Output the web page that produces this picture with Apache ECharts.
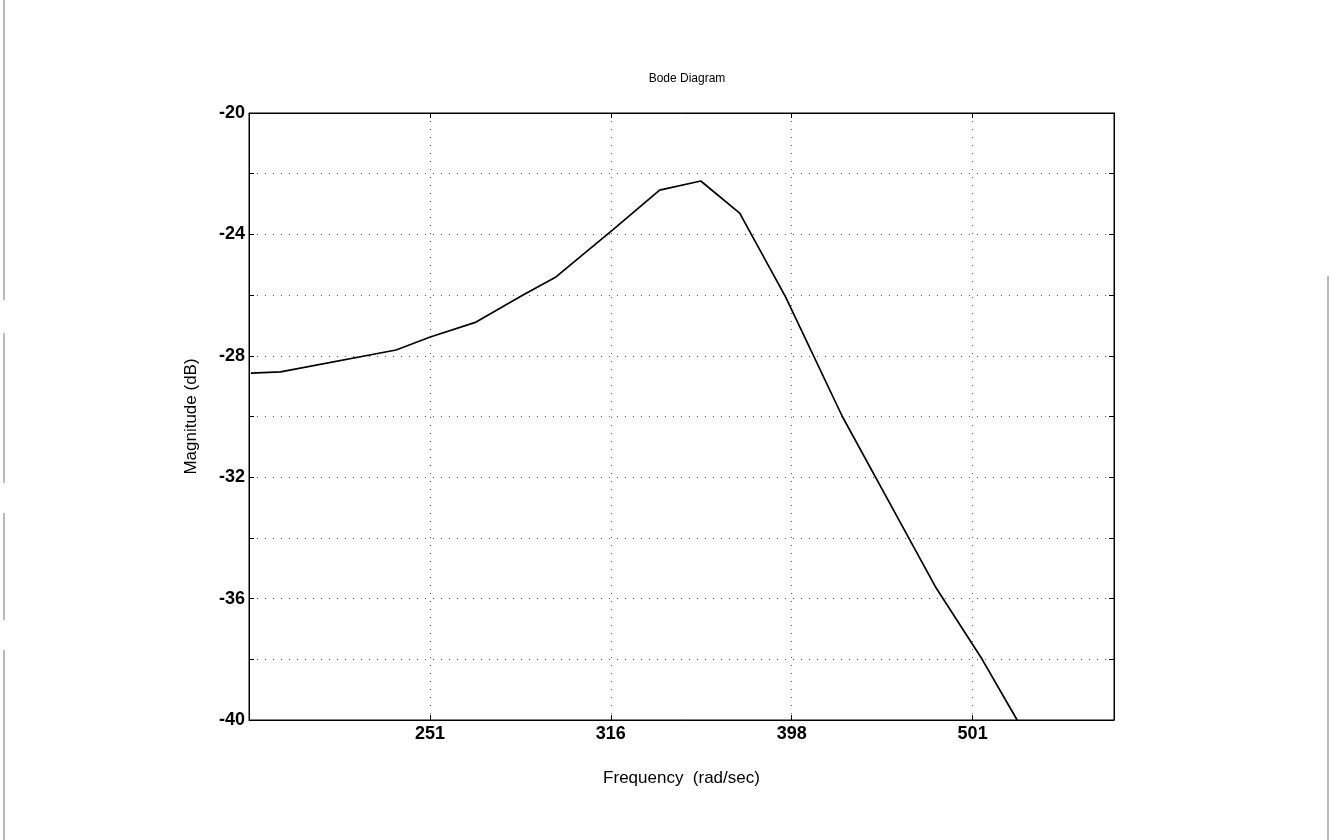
<!DOCTYPE html>
<html>
<head>
<meta charset="utf-8">
<script src="https://cdn.jsdelivr.net/npm/echarts@6/dist/echarts.min.js"></script>
<style>
html,body{margin:0;padding:0;background:#fff;}
#chart{width:1330px;height:840px;}
</style>
</head>
<body>
<div id="chart"></div>
<script>
// Frequency (rad/sec) and magnitude (dB)
const frequency = [200, 207.7, 240.6, 251.3, 266.4, 282.8, 294.9, 317.0, 336.5, 354.6, 372.6, 395.0, 424.6, 446.7, 477.9, 507.3, 530.4];
const magnitude = [-28.57, -28.53, -27.81, -27.38, -26.89, -26.0, -25.4, -23.85, -22.54, -22.24, -23.3, -26.06, -30.0, -32.4, -35.6, -38.0, -40.0];
const xTickLabels = ['251', '316', '398', '501'];
const yTickLabels = [-20, -24, -28, -32, -36, -40];

const seriesData = frequency.map((f, i) => [Math.log10(f), magnitude[i]]);

const FONT = '"Liberation Sans", Arial, sans-serif';

function xLabel(v) {
  const s = String(Math.round(Math.pow(10, v)));
  return xTickLabels.indexOf(s) >= 0 ? s : '';
}
function yLabel(v) {
  const r = Math.round(v);
  return yTickLabels.indexOf(r) >= 0 ? String(r) : '';
}

const gridLine = { show: true, lineStyle: { color: '#555', width: 1, type: [1, 7] } };

const chart = echarts.init(document.getElementById('chart'), null, { renderer: 'canvas' });
chart.setOption({
  backgroundColor: '#fff',
  animation: false,
  title: {
    text: 'Bode Diagram',
    left: 682,
    textAlign: 'center',
    top: 68,
    textStyle: { fontFamily: FONT, fontSize: 12, fontWeight: 'normal', color: '#000' }
  },
  grid: {
    left: 249, right: 216, top: 113, bottom: 120,
    show: true, borderColor: '#000', borderWidth: 1, backgroundColor: 'transparent'
  },
  xAxis: [{
    type: 'value',
    min: 2.3, max: Math.log10(600), interval: 0.1,
    position: 'bottom',
    name: 'Frequency  (rad/sec)',
    nameLocation: 'middle',
    nameGap: 50,
    nameTextStyle: { fontFamily: FONT, fontSize: 17, color: '#000' },
    axisLine: { show: true, lineStyle: { color: '#000', width: 1 } },
    axisTick: { show: true, inside: true, length: 5, lineStyle: { color: '#000' } },
    axisLabel: { formatter: xLabel, fontFamily: FONT, fontSize: 18, fontWeight: 'bold', color: '#000', margin: 5 },
    splitLine: gridLine
  }, {
    type: 'value',
    min: 2.3, max: Math.log10(600), interval: 0.1,
    position: 'top',
    axisLine: { show: true, lineStyle: { color: '#000', width: 1 } },
    axisTick: { show: true, inside: true, length: 5, lineStyle: { color: '#000' } },
    axisLabel: { show: false },
    splitLine: { show: false }
  }],
  yAxis: [{
    type: 'value',
    min: -40, max: -20, interval: 2,
    position: 'left',
    name: 'Magnitude (dB)',
    nameLocation: 'middle',
    nameGap: 49,
    nameTextStyle: { fontFamily: FONT, fontSize: 17, color: '#000' },
    axisLine: { show: true, lineStyle: { color: '#000', width: 1 } },
    axisTick: { show: true, inside: true, length: 5, lineStyle: { color: '#000' } },
    axisLabel: { formatter: yLabel, fontFamily: FONT, fontSize: 18, fontWeight: 'bold', color: '#000', margin: 4 },
    splitLine: gridLine
  }, {
    type: 'value',
    min: -40, max: -20, interval: 2,
    position: 'right',
    axisLine: { show: true, lineStyle: { color: '#000', width: 1 } },
    axisTick: { show: true, inside: true, length: 5, lineStyle: { color: '#000' } },
    axisLabel: { show: false },
    splitLine: { show: false }
  }],
  series: [{
    type: 'line',
    data: seriesData,
    xAxisIndex: 0,
    yAxisIndex: 0,
    showSymbol: false,
    symbol: 'none',
    lineStyle: { color: '#000', width: 1.7 },
    clip: true
  }],
  graphic: [
    { type: 'line', shape: { x1: 4, y1: 0, x2: 4, y2: 300 }, style: { stroke: '#777', lineWidth: 1 } },
    { type: 'line', shape: { x1: 4, y1: 333, x2: 4, y2: 483 }, style: { stroke: '#777', lineWidth: 1 } },
    { type: 'line', shape: { x1: 4, y1: 513, x2: 4, y2: 620 }, style: { stroke: '#777', lineWidth: 1 } },
    { type: 'line', shape: { x1: 4, y1: 650, x2: 4, y2: 840 }, style: { stroke: '#777', lineWidth: 1 } },
    { type: 'line', shape: { x1: 1328, y1: 276, x2: 1328, y2: 840 }, style: { stroke: '#777', lineWidth: 1 } }
  ]
});
</script>
</body>
</html>
